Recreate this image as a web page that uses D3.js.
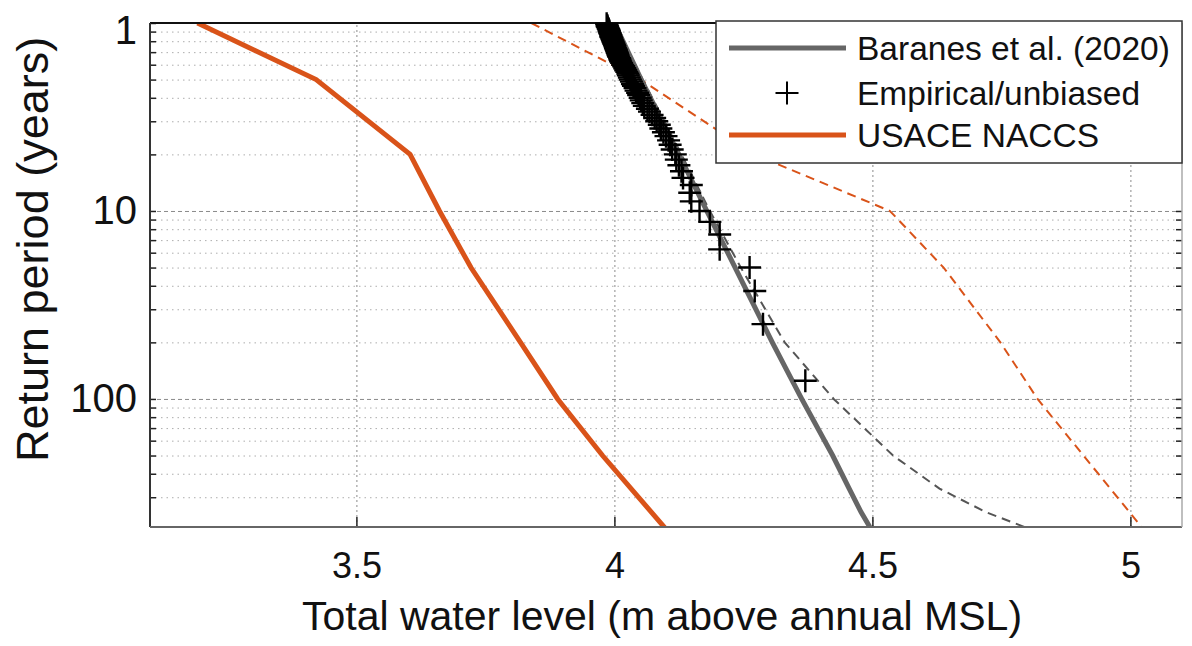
<!DOCTYPE html>
<html>
<head>
<meta charset="utf-8">
<script src="https://cdn.jsdelivr.net/npm/d3@7"></script>
<style>
  body { margin: 0; background: #fff; }
  svg { display: block; font-family: "Liberation Sans", Arial, Helvetica, sans-serif; }
</style>
</head>
<body>
<svg></svg>
<script>
//Data (water level in m, return period in years)
const naccsPeriod = [1, 2, 5, 10, 20, 50, 100, 200, 500];
const naccsLevel = [3.192, 3.422, 3.604, 3.661, 3.722, 3.818, 3.890, 3.977, 4.102];
const naccsUpper = [3.839, 4.051, 4.271, 4.534, 4.638, 4.748, 4.820, 4.909, 5.027];

const baranesPeriod = [1, 2, 5, 10, 20, 50, 100, 200, 300, 400, 480];
const baranesLevel = [4.000, 4.052, 4.125, 4.179, 4.234, 4.306, 4.363, 4.423, 4.455, 4.478, 4.495];
const baranesUpper = [4.000, 4.055, 4.130, 4.185, 4.245, 4.330, 4.425, 4.540, 4.630, 4.720, 4.795];

const empiricalPeriod = [80, 40, 26.67, 20, 16, 13.33, 11.43, 10, 8.89, 8,
  7.27, 6.67, 6.15, 5.71, 5.33, 5, 4.71, 4.44, 4.21, 4,
  3.81, 3.64, 3.48, 3.33, 3.2, 3.08, 2.96, 2.86, 2.76, 2.67,
  2.58, 2.5, 2.42, 2.35, 2.29, 2.22, 2.16, 2.11, 2.05, 2,
  1.95, 1.9, 1.86, 1.82, 1.78, 1.74, 1.7, 1.67, 1.63, 1.6,
  1.57, 1.54, 1.51, 1.48, 1.45, 1.43, 1.4, 1.38, 1.36, 1.33,
  1.31, 1.29, 1.27, 1.25, 1.23, 1.21, 1.19, 1.18, 1.16, 1.14,
  1.13, 1.11, 1.1, 1.08, 1.07, 1.05, 1.04, 1.03, 1.01];
const empiricalLevel = [4.370, 4.288, 4.272, 4.262, 4.204, 4.204, 4.185, 4.165, 4.149, 4.146,
  4.149, 4.133, 4.130, 4.125, 4.120, 4.118, 4.112, 4.108, 4.105, 4.100,
  4.095, 4.090, 4.087, 4.082, 4.078, 4.073, 4.068, 4.064, 4.058, 4.055,
  4.052, 4.050, 4.047, 4.045, 4.042, 4.040, 4.037, 4.035, 4.033, 4.031,
  4.029, 4.027, 4.026, 4.024, 4.022, 4.020, 4.018, 4.016, 4.014, 4.012,
  4.011, 4.010, 4.008, 4.007, 4.006, 4.005, 4.004, 4.003, 4.002, 4.001,
  4.000, 3.999, 3.998, 3.997, 3.996, 3.995, 3.994, 3.993, 3.993, 3.992,
  3.991, 3.990, 3.990, 3.989, 3.988, 3.987, 3.986, 3.986, 3.985];

//Ticks and gridlines
const xTicks = [3.5, 4, 4.5, 5];
const yTicks = [1, 10, 100];
const yMinor = [1.111, 1.25, 1.429, 1.667, 2, 2.5, 3.333, 5,
  11.11, 12.5, 14.29, 16.67, 20, 25, 33.33, 50,
  111.1, 125, 142.9, 166.7, 200, 250, 333.3];

const legendLabels = ["Baranes et al. (2020)", "Empirical/unbiased", "USACE NACCS"];

const w = 1192;
const h = 646;
const pLeft = 150;
const pRight = 1182;
const pTop = 23;
const pBottom = 527;

const orange = "#d95319";

//Scale Setup
const xScale = d3.scaleLinear()
                 .domain([3.1, 5.1])
                 .range([pLeft, pRight]);
const yScale = d3.scaleLog()
                 .domain([1, 480])
                 .range([pTop, pBottom]);

const chart = d3.select("svg")
                .attr("width", w)
                .attr("height", h);

chart.append("defs").append("clipPath")
     .attr("id", "plot-clip")
     .append("rect")
     .attr("x", pLeft)
     .attr("y", pTop)
     .attr("width", pRight - pLeft)
     .attr("height", pBottom - pTop);

//Gridlines
chart.append("g")
     .attr("transform", "translate(" + pLeft + ",0)")
     .call(d3.axisLeft(yScale).tickValues(yMinor).tickSize(-(pRight - pLeft)).tickFormat(""))
     .call(g => g.select(".domain").remove())
     .selectAll("line")
     .attr("stroke", "#adadad")
     .attr("stroke-width", 1)
     .attr("stroke-dasharray", "1.5,4");

chart.append("g")
     .attr("transform", "translate(" + pLeft + ",0)")
     .call(d3.axisLeft(yScale).tickValues([10, 100]).tickSize(-(pRight - pLeft)).tickFormat(""))
     .call(g => g.select(".domain").remove())
     .selectAll("line")
     .attr("stroke", "#8a8a8a")
     .attr("stroke-width", 1)
     .attr("stroke-dasharray", "4,3");

chart.append("g")
     .attr("transform", "translate(0," + pBottom + ")")
     .call(d3.axisBottom(xScale).tickValues(xTicks).tickSize(-(pBottom - pTop)).tickFormat(""))
     .call(g => g.select(".domain").remove())
     .selectAll("line")
     .attr("stroke", "#8a8a8a")
     .attr("stroke-width", 1)
     .attr("stroke-dasharray", "2,3");

//Curves
const lineOf = (periods) => d3.line()
                              .x((d) => xScale(d))
                              .y((d, i) => yScale(periods[i]));

const curves = chart.append("g").attr("clip-path", "url(#plot-clip)");

curves.append("path")
      .attr("d", lineOf(naccsPeriod)(naccsUpper))
      .attr("fill", "none")
      .attr("stroke", orange)
      .attr("stroke-width", 2)
      .attr("stroke-dasharray", "9,6");

curves.append("path")
      .attr("d", lineOf(naccsPeriod)(naccsLevel))
      .attr("fill", "none")
      .attr("stroke", orange)
      .attr("stroke-width", 5);

curves.append("path")
      .attr("d", lineOf(baranesPeriod)(baranesUpper))
      .attr("fill", "none")
      .attr("stroke", "#555")
      .attr("stroke-width", 2)
      .attr("stroke-dasharray", "9,6");

curves.append("path")
      .attr("d", lineOf(baranesPeriod)(baranesLevel))
      .attr("fill", "none")
      .attr("stroke", "#666")
      .attr("stroke-width", 5);

//Frame and ticks
chart.append("g")
     .attr("transform", "translate(" + pLeft + ",0)")
     .call(d3.axisLeft(yScale).tickValues(yMinor.concat(yTicks)).tickSize(-6).tickFormat(""))
     .call(g => g.select(".domain").remove())
     .selectAll("line").attr("stroke", "#222").attr("stroke-width", 1.5);

chart.append("g")
     .attr("transform", "translate(" + pRight + ",0)")
     .call(d3.axisRight(yScale).tickValues(yMinor.concat(yTicks)).tickSize(-6).tickFormat(""))
     .call(g => g.select(".domain").remove())
     .selectAll("line").attr("stroke", "#222").attr("stroke-width", 1.5);

const yAxis = chart.append("g")
                   .attr("transform", "translate(" + pLeft + ",0)")
                   .call(d3.axisLeft(yScale).tickValues(yTicks).tickSize(0).tickPadding(13).tickFormat(d3.format("d")));
yAxis.select(".domain").remove();
yAxis.selectAll("text")
     .attr("font-size", 40)
     .attr("font-family", "Liberation Sans, Arial, sans-serif")
     .attr("fill", "#111")
     .attr("y", (d) => d === 1 ? 8 : 0);

const xAxis = chart.append("g")
                   .attr("transform", "translate(0," + pBottom + ")")
                   .call(d3.axisBottom(xScale).tickValues(xTicks).tickSizeInner(-10).tickSizeOuter(0).tickPadding(25).tickFormat((d) => d));
xAxis.select(".domain").remove();
xAxis.selectAll("line").attr("stroke", "#222").attr("stroke-width", 1.5);
xAxis.selectAll("text")
     .attr("font-size", 36)
     .attr("font-family", "Liberation Sans, Arial, sans-serif")
     .attr("fill", "#111");

chart.append("line").attr("x1", pLeft).attr("x2", pRight).attr("y1", pTop).attr("y2", pTop)
     .attr("stroke", "#111").attr("stroke-width", 2);
chart.append("line").attr("x1", pLeft).attr("x2", pLeft).attr("y1", pTop).attr("y2", pBottom)
     .attr("stroke", "#333").attr("stroke-width", 2);
chart.append("line").attr("x1", pLeft).attr("x2", pRight).attr("y1", pBottom).attr("y2", pBottom)
     .attr("stroke", "#666").attr("stroke-width", 2);
chart.append("line").attr("x1", pRight).attr("x2", pRight).attr("y1", pTop).attr("y2", pBottom)
     .attr("stroke", "#aaa").attr("stroke-width", 1.5);

//Empirical markers
const cross = "M-11.5,0H11.5M0,-11.5V11.5";
chart.append("g")
     .selectAll("path")
     .data(empiricalLevel)
     .enter()
     .append("path")
     .attr("transform", (d, i) => "translate(" + xScale(d) + "," + yScale(empiricalPeriod[i]) + ")")
     .attr("d", cross)
     .attr("fill", "none")
     .attr("stroke", "#000")
     .attr("stroke-width", 2.4);

//Labels Setup
chart.append("text")
     .attr("x", 662)
     .attr("y", 630)
     .attr("text-anchor", "middle")
     .attr("font-size", 41)
     .attr("fill", "#111")
     .text("Total water level (m above annual MSL)");

chart.append("text")
     .attr("transform", "translate(48,462) rotate(-90)")
     .attr("text-anchor", "start")
     .attr("font-size", 45)
     .attr("fill", "#111")
     .text("Return period (years)");

//Legend
const legend = chart.append("g");
legend.append("rect")
      .attr("x", 716)
      .attr("y", 21)
      .attr("width", 466)
      .attr("height", 142)
      .attr("fill", "#fff")
      .attr("stroke", "#333")
      .attr("stroke-width", 1.5);

const rowY = [48, 93, 135];
legend.append("line")
      .attr("x1", 729).attr("x2", 846).attr("y1", rowY[0]).attr("y2", rowY[0])
      .attr("stroke", "#666").attr("stroke-width", 5);
legend.append("path")
      .attr("transform", "translate(787," + rowY[1] + ")")
      .attr("d", cross)
      .attr("fill", "none")
      .attr("stroke", "#000")
      .attr("stroke-width", 2);
legend.append("line")
      .attr("x1", 729).attr("x2", 846).attr("y1", rowY[2]).attr("y2", rowY[2])
      .attr("stroke", orange).attr("stroke-width", 5);

legend.selectAll(".legendLabel")
      .data(legendLabels)
      .enter()
      .append("text")
      .classed("legendLabel", true)
      .attr("x", 857)
      .attr("y", (d, i) => rowY[i])
      .attr("dy", "0.35em")
      .attr("font-size", 33.5)
      .attr("fill", "#111")
      .text((d) => d);
</script>
</body>
</html>
